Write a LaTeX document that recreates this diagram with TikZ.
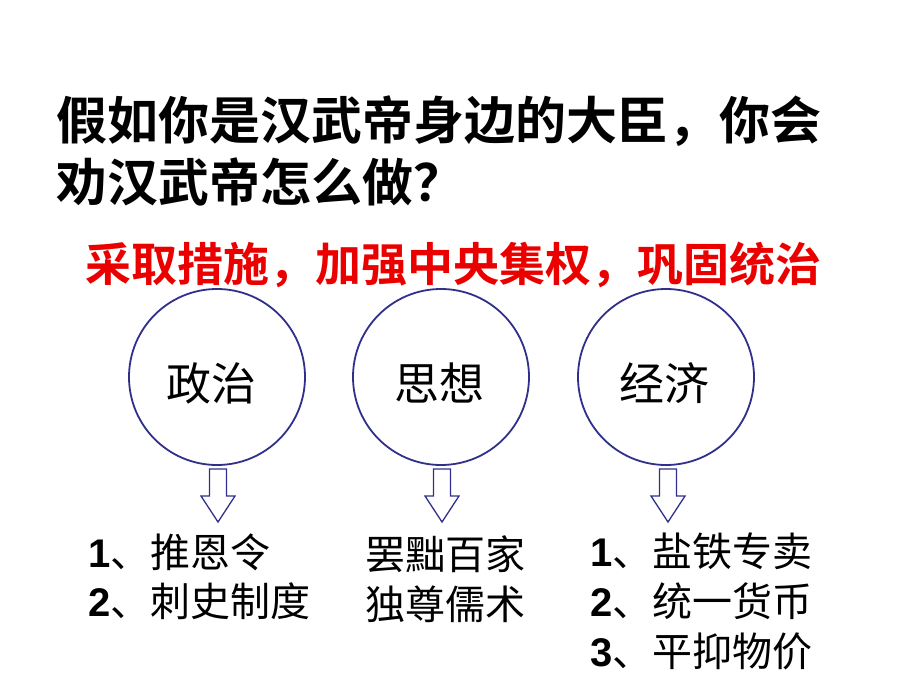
\documentclass[tikz,border=0pt]{standalone}
\usepackage{fontspec}
\newfontfamily\cjk{Noto Sans CJK SC}
\newfontfamily\cjkb{Noto Sans CJK SC Bold}
\newfontfamily\digf{Liberation Sans}
\definecolor{navy}{RGB}{48,48,140}
\definecolor{redtxt}{RGB}{235,0,0}
\begin{document}
\begin{tikzpicture}[x=1pt,y=-1pt,
  title/.style={anchor=west,inner sep=0pt,font=\cjkb\fontsize{51}{51}\selectfont},
  slogan/.style={anchor=west,inner sep=0pt,text=redtxt,font=\cjkb\fontsize{46}{46}\selectfont},
  topic/.style={circle,draw=navy,line width=1.8pt,minimum size=176pt,inner sep=0pt},
  topictext/.style={inner sep=0pt,font=\cjk\fontsize{45}{45}\selectfont},
  item/.style={anchor=west,inner sep=0pt,font=\cjk\fontsize{40}{40}\selectfont},
  downarrow/.style={draw=navy,line width=1.3pt,fill=white,line join=miter}]
\useasboundingbox (0,0) rectangle (920,690);
\fill[white] (0,0) rectangle (920,690);
\node[title] (t1) at (56,121) {假如你是汉武帝身边的大臣，你会};
\node[title] (t2) at (56,182) {劝汉武帝怎么做？};
\node[slogan] (s) at (85,265) {采取措施，加强中央集权，巩固统治};
\node[topic] (c1) at (217,377) {};
\node[topic] (c2) at (441,377) {};
\node[topic] (c3) at (666,377) {};
\node[topictext] (l1) at (211,383) {政治};
\node[topictext] (l2) at (439,383) {思想};
\node[topictext] (l3) at (664,383) {经济};
\foreach \cx/\n in {218/a1,442/a2,668/a3}{
  \draw[downarrow] (\cx-8.5,469) -- (\cx+8.5,469) -- (\cx+8.5,496) -- (\cx+17,496) -- (\cx,522) -- (\cx-17,496) -- (\cx-8.5,496) -- cycle;
}
\node[item] (p1) at (88,552) {{\digf\bfseries 1}、推恩令};
\node[item] (p2) at (88,601) {{\digf\bfseries 2}、刺史制度};
\node[item] (m1) at (365,554) {罢黜百家};
\node[item] (m2) at (365,604) {独尊儒术};
\node[item] (e1) at (590,551) {{\digf\bfseries 1}、盐铁专卖};
\node[item] (e2) at (590,601) {{\digf\bfseries 2}、统一货币};
\node[item] (e3) at (590,651) {{\digf\bfseries 3}、平抑物价};
\end{tikzpicture}
\end{document}
